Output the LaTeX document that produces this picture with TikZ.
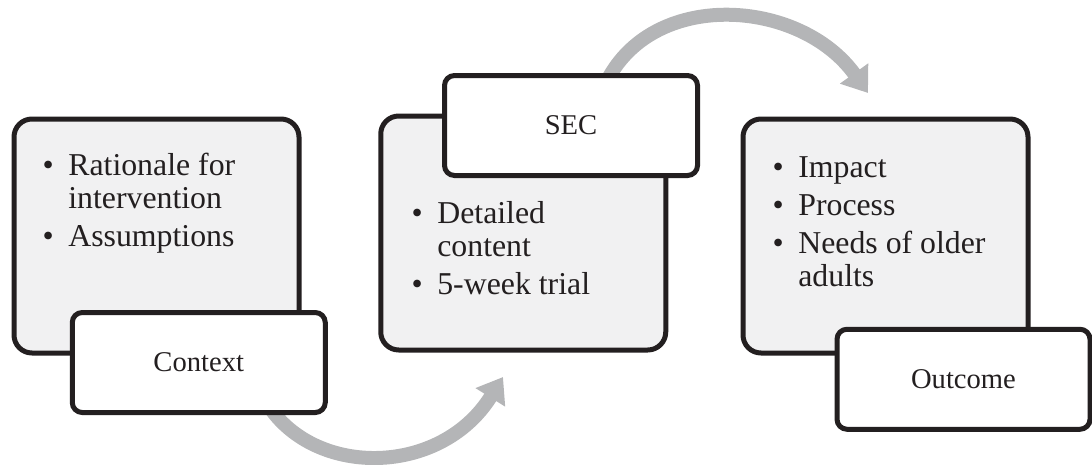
\documentclass[tikz,border=0pt]{standalone}
\usepackage{fontspec}
\setmainfont{Liberation Serif}
\usetikzlibrary{arrows.meta}
\definecolor{ink}{HTML}{231F20}
\definecolor{fillgray}{HTML}{F1F1F2}
\definecolor{arrowgray}{HTML}{B4B5B7}
\newcommand\itemfont{\fontsize{23.85pt}{25.1pt}\selectfont}
\newcommand\labfont{\fontsize{21.45pt}{25pt}\selectfont}
\newcommand\blist[1]{\begin{tabular}[t]{@{}l@{\hspace{10.9pt}}l@{}}#1\end{tabular}}
\begin{document}
\begin{tikzpicture}[x=0.75pt,y=-0.75pt,
  graybox/.style={draw=ink,fill=fillgray,line width=3.75pt,rounded corners=13.5pt,
    minimum width=213.75pt,minimum height=175.5pt,inner sep=0pt},
  labelbox/.style={draw=ink,fill=white,line width=3.75pt,rounded corners=7.5pt,
    minimum width=189.75pt,minimum height=75pt,inner sep=0pt,font=\labfont,text=ink},
  listtext/.style={anchor=base west,inner sep=0pt,font=\itemfont,text=ink},
  flow/.style={draw=arrowgray,line width=10.5pt,-{Triangle[width=25pt,length=18pt]}}
]
\useasboundingbox (0,0) rectangle (1092,464);

% connector end points
\coordinate (f1s) at (265,400);
\coordinate (f1e) at (503,377);
\coordinate (f2s) at (605,85);
\coordinate (f2e) at (868,93);

% flow arrows (behind boxes)
\draw[flow] (f1s) .. controls (310,478) and (440,478) .. (f1e);
\draw[flow] (f2s) .. controls (650,-12) and (800,-2) .. (f2e);

% stage 1
\node[graybox] (box1) at (156.5,236) {};
\node[labelbox] (ctx) at (198.75,362.5) {Context};
\node[listtext] (list1) at (42.4,175) {\blist{\textbullet & Rationale for\\ & intervention\\[3.4pt] \textbullet & Assumptions}};

% stage 2
\node[graybox] (box2) at (523.25,233) {};
\node[labelbox] (sec) at (571,125.5) {SEC};
\node[listtext] (list2) at (411.4,223) {\blist{\textbullet & Detailed\\ & content\\[3.4pt] \textbullet & 5-week trial}};

% stage 3
\node[graybox] (box3) at (885.5,236) {};
\node[labelbox] (out) at (963.5,379.25) {Outcome};
\node[listtext] (list3) at (772.4,177) {\blist{\textbullet & Impact\\[3.4pt] \textbullet & Process\\[3.4pt] \textbullet & Needs of older\\ & adults}};
\end{tikzpicture}
\end{document}
